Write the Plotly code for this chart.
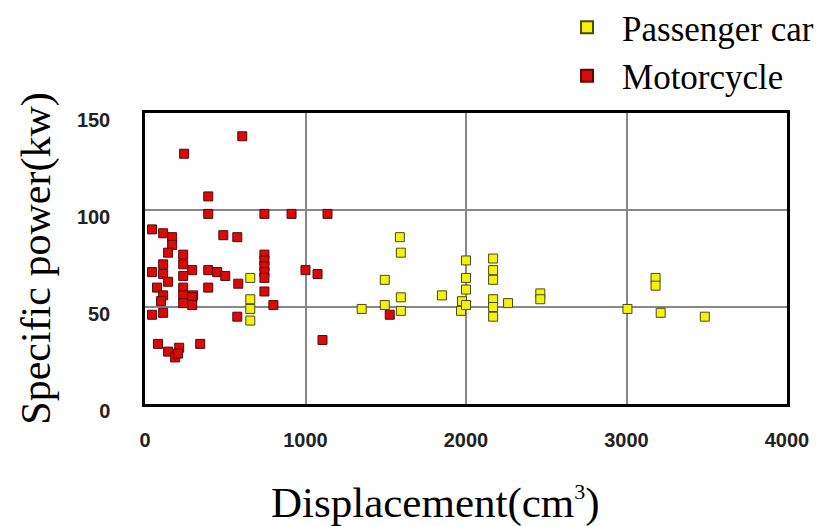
import plotly.graph_objects as go

# Passenger car data (displacement cm3, specific power kW)
car_disp = [656, 656, 656, 656, 1350, 1494, 1494, 1588, 1594, 1594, 1594,
            1850, 1969, 1975, 2000, 2000, 2000, 2000,
            2169, 2169, 2169, 2169, 2169, 2169, 2262, 2463, 2463,
            3006, 3181, 3181, 3213, 3488]
car_power = [65, 54, 49, 43, 49, 64, 51, 86, 78, 55, 48,
             56, 48, 53, 74, 65, 59, 51,
             75, 69, 64, 54, 50, 45, 52, 57, 54,
             49, 65, 61, 47, 45]

# Motorcycle data
moto_disp = [244, 606, 394, 394, 744, 913, 1137,
             44, 113, 169, 169, 144, 238, 238, 113,
             294, 394, 450, 500, 44, 113, 144, 238, 75, 238, 394, 581,
             113, 238, 300, 100, 238, 294, 294, 44, 113,
             81, 144, 188, 213, 206, 344, 575, 488, 575,
             744, 744, 744, 744, 744, 744, 800, 1000, 1075, 1106, 1525]
moto_power = [129, 138, 107, 98, 98, 98, 98,
              90, 88, 86, 82, 78, 77, 72, 72,
              69, 69, 68, 66, 68, 67, 63, 66, 60, 60, 60, 62,
              56, 56, 56, 53, 52, 55, 51, 46, 47,
              31, 27, 24, 29, 26, 31, 45, 87, 86,
              77, 74, 71, 68, 65, 58, 51, 69, 67, 33, 46]

x_ticks = [0, 1000, 2000, 3000, 4000]
y_ticks = [0, 50, 100, 150]

x_title = "Displacement(cm<sup><span style='font-size:22px'>3</span></sup>)"
y_title = "Specific power(kw)"

SERIF = "Times New Roman, Liberation Serif, Times, serif"
SANS = "Liberation Sans, Arial, sans-serif"

fig = go.Figure()
fig.add_trace(go.Scatter(
    x=car_disp, y=car_power, mode="markers", name="Passenger car",
    marker=dict(symbol="square", size=9, color="#f2f20a",
                line=dict(color="#4a4a10", width=1)),
))
fig.add_trace(go.Scatter(
    x=moto_disp, y=moto_power, mode="markers", name="Motorcycle",
    marker=dict(symbol="square", size=9, color="#d80a0a",
                line=dict(color="#5a0808", width=1)),
))

fig.update_layout(
    width=834, height=526,
    margin=dict(l=137, r=55, t=105, b=130, autoexpand=False),
    paper_bgcolor="white", plot_bgcolor="white",
    showlegend=True,
    legend=dict(
        x=0.634, y=1.395, xanchor="left", yanchor="top",
        font=dict(family=SERIF, size=35, color="black"),
        itemwidth=60, itemsizing="constant",
        bgcolor="rgba(0,0,0,0)", tracegroupgap=0,
    ),
    xaxis=dict(
        range=[0, 4000], tickvals=x_ticks, ticktext=[str(v) for v in x_ticks],
        showgrid=True, gridcolor="#888888", gridwidth=1.5,
        showline=True, linecolor="black", linewidth=2.5, mirror=True,
        zeroline=False, ticks="", automargin=False,
        tickfont=dict(family=SANS, size=20, color="#222222", weight="bold"),
        ticklabelstandoff=16,
    ),
    yaxis=dict(
        range=[0, 150], tickvals=y_ticks, ticktext=[str(v) for v in y_ticks],
        showgrid=True, gridcolor="#888888", gridwidth=1.5,
        showline=True, linecolor="black", linewidth=2.5, mirror=True,
        zeroline=False, ticks="", automargin=False,
        tickfont=dict(family=SANS, size=20, color="#222222", weight="bold"),
        ticklabelstandoff=28, ticklabelshift=7,
        title=dict(text=y_title,
                   font=dict(family=SERIF, size=42, color="black"),
                   standoff=14),
    ),
    annotations=[dict(
        text=x_title, xref="paper", yref="paper", x=0.452, y=-0.34,
        xanchor="center", yanchor="middle", showarrow=False,
        font=dict(family=SERIF, size=43, color="black"),
    )],
)

fig.write_html("out.html")
